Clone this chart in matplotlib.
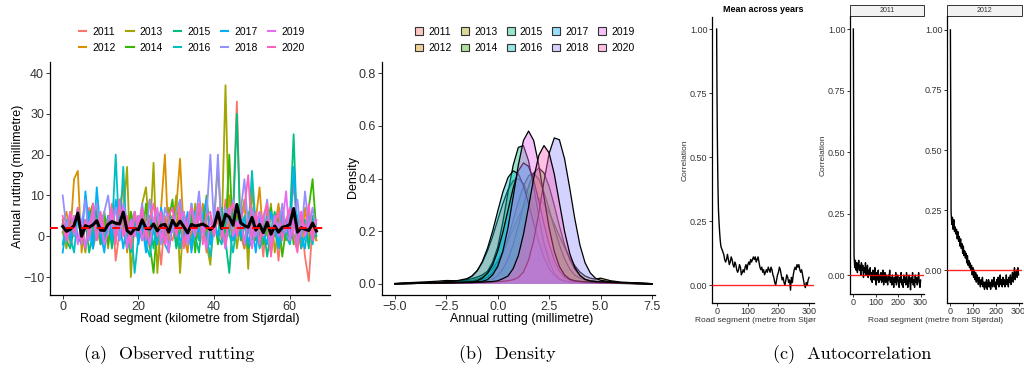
import numpy as np
import matplotlib
matplotlib.use('Agg')
import matplotlib.pyplot as plt
from matplotlib.patches import Rectangle, Patch
from matplotlib.lines import Line2D
from matplotlib.colors import to_rgba
from matplotlib.transforms import Bbox, TransformedBbox

plt.rcParams['font.family'] = ['Liberation Sans', 'DejaVu Sans']

# ---------------- data ----------------
YEARS = [2011, 2012, 2013, 2014, 2015, 2016, 2017, 2018, 2019, 2020]
COLORS = ['#F8766D', '#D89000', '#A3A500', '#39B600', '#00BF7D',
          '#00BFC4', '#00B0F6', '#9590FF', '#E76BF3', '#FF62BC']

KM = list(range(68))  # road segment (km from Stjørdal)
RUT_2011 = [1, 4, -2, 3, 6, -1, 2, 7, -3, 1, 5, -1, 3, 8, -6, 1, 4, -2, 6, 2,
            -1, 7, 1, -3, 4, 2, -7, 5, 0, -1, 3, 8, -2, 4, 0, 6, -1, 3, -4, 5,
            1, 4, -1, 9, 2, 6, 33, 0, -3, 4, 6, -1, 3, -5, 7, 0, 4, -6, 3, -1,
            5, 13, 0, 4, -5, -11, 3, -1]
RUT_2012 = [3, 6, 0, 14, 16, -4, 4, -1, 8, 2, -2, 5, 1, 4, -1, 7, 12, -4, 3, 0,
            5, -1, 4, 9, 1, 0, 7, 20, -3, 4, 7, 19, 0, -4, 6, 2, -1, 8, 3, -2,
            2, 7, 0, 4, 10, -1, 5, 2, -3, 6, 0, 4, 12, -1, 5, -4, 2, 8, 0, 4,
            -1, 5, 2, -3, 7, 0, 4, -1]
RUT_2013 = [1, -3, 4, 0, 7, 2, -4, 5, 1, 8, -1, 4, -3, 7, 2, 0, 5, 17, -10, 4,
            1, 8, 12, 0, 18, -9, 4, -1, 7, 2, 10, -9, 5, 0, -1, 8, 2, 4, -2, -7,
            5, 17, 1, 37, 0, 7, -3, 4, 9, -8, 12, 1, -2, 5, 0, 8, -4, 2, 4, -1,
            6, 0, -3, 5, 2, -1, 4, 0]
RUT_2014 = [4, -1, 5, 0, 6, 2, -3, 5, 8, 0, 3, 6, -2, 5, 0, 9, 2, -3, 6, 1,
            5, -1, 8, -2, -9, 3, 6, -1, 4, 9, -2, 3, 6, 0, 5, -4, 7, 1, 10, -1,
            5, -2, 6, 1, 20, -1, 4, 7, -2, 3, 6, -1, 4, -2, 3, 7, 0, 5, -5, 2,
            6, -2, 3, 5, 0, 7, 14, 1]
RUT_2015 = [3, -1, -3, 2, 5, -1, 4, -4, 1, 6, -2, 1, 5, -3, 3, -1, 7, 0, -4, 3,
            0, 5, -2, 3, -3, 6, 1, -2, 4, 5, -3, 1, 4, -2, 8, 0, -4, 5, 1, -2,
            3, 0, 7, -1, -9, 4, 30, -1, 3, -3, -1, 5, 0, 3, -5, 1, 6, -2, 3, 0,
            4, 25, -2, 1, 4, -3, 5, 0]
RUT_2016 = [-2, 4, 0, -4, 5, -1, 2, 6, -3, 3, 0, -2, 5, 1, 20, -1, 17, -3, 4, -9,
            0, 5, -2, -5, 3, 0, 6, -2, -4, 3, 1, -3, 5, 2, -3, 6, -1, 3, 0, -5,
            3, 0, -2, 5, 1, -4, 3, 6, -2, 1, 16, 2, -3, 0, 5, -3, 2, -2, 6, 0,
            -2, 3, 5, -3, 0, 4, -2, 3]
RUT_2017 = [-4, 3, -1, 5, 0, -2, 11, 2, -3, 12, 1, -4, 5, -1, 9, 4, -3, 3, 0, 6,
            -2, 3, -4, 5, 1, -2, 7, 2, -3, 4, 2, -1, 0, 6, -4, 3, 1, 5, 9, -2,
            4, 0, 3, -3, 6, -1, 2, 0, 5, -2, 3, -4, 5, 1, -2, 6, 2, -3, 1, 4,
            -1, 17, 2, 0, -3, 5, -1, 2]
RUT_2018 = [10, 2, 6, 0, 7, 3, 9, -1, 5, 8, 1, 6, 10, 2, 7, -1, 8, 4, 0, 6,
            2, 8, 0, 9, 3, 6, -2, 7, 4, 1, 6, 9, 2, 0, 8, 3, 11, 1, 5, 20,
            2, 20, 0, 7, 4, 9, 1, 6, 14, 2, 7, 0, 6, 3, 9, -1, 5, 2, 8, 1,
            6, 3, 9, 0, 11, 2, 7, 1]
RUT_2019 = [3, -1, 2, 5, -2, 4, -3, 3, 6, -1, 4, -2, 1, 6, 0, 3, 7, -3, 4, 0,
            5, -1, 3, -2, 4, 7, -1, 3, -4, 5, 0, 4, 6, -2, 3, 0, 5, 2, -3, 4,
            0, 6, 2, -3, 7, 0, 3, 5, -2, 4, -3, 3, 6, 0, 4, -4, 5, 0, 3, 11,
            -1, 4, -2, 6, 0, 3, -1, 4]
RUT_2020 = [5, -1, 6, 1, 7, -2, 4, 0, 8, -1, 6, 1, 4, 7, -2, 9, 0, 5, -3, 6,
            1, 7, -1, 4, 8, 0, 6, -2, 5, 7, 0, 6, -3, 4, 7, 1, 8, -2, 5, 6,
            0, 7, 3, -2, 6, 8, 0, 4, 7, 15, 0, 6, -2, 5, 8, -5, 3, 6, -1, 4,
            7, 0, -4, 6, 1, 8, -1, 4]
OVERALL_MEAN = 2.0

DENS_X = [-5, -4, -3, -2.5, -2, -1.5, -1.25, -1, -0.75, -0.5, -0.25, 0, 0.25, 0.5,
          0.75, 1, 1.25, 1.5, 1.75, 2, 2.25, 2.5, 2.75, 3, 3.25, 3.5, 3.75, 4,
          4.25, 4.5, 4.75, 5, 5.5, 6, 6.5, 7, 7.5]
DENS_2011 = [0.001, 0.002, 0.004, 0.006, 0.009,
             0.018, 0.03, 0.05, 0.081, 0.125, 0.18, 0.243, 0.305, 0.358, 0.391, 0.4, 0.38,
             0.338, 0.281, 0.217, 0.157, 0.106, 0.066, 0.039, 0.022, 0.014, 0.009, 0.007,
             0.006, 0.005, 0.004, 0.004,
             0.003, 0.002, 0.002, 0.001, 0.0]
DENS_2012 = [0.002, 0.006, 0.01, 0.013, 0.012,
             0.012, 0.013, 0.018, 0.026, 0.04, 0.058, 0.086, 0.122, 0.164, 0.209, 0.253,
             0.291, 0.318, 0.33, 0.325, 0.304, 0.27, 0.227, 0.182, 0.138, 0.1, 0.069,
             0.045, 0.03, 0.022, 0.018, 0.022,
             0.012, 0.007, 0.005, 0.003, 0.001]
DENS_2013 = [0.001, 0.003, 0.005, 0.007, 0.008,
             0.009, 0.01, 0.013, 0.017, 0.026, 0.044, 0.071, 0.115, 0.173, 0.241, 0.31,
             0.371, 0.41, 0.42, 0.397, 0.348, 0.283, 0.213, 0.148, 0.095, 0.057, 0.033,
             0.022, 0.015, 0.012, 0.01, 0.009,
             0.006, 0.004, 0.003, 0.002, 0.001]
DENS_2014 = [0.001, 0.002, 0.003, 0.004, 0.004,
             0.005, 0.005, 0.006, 0.007, 0.01, 0.017, 0.032, 0.056, 0.095, 0.149, 0.22,
             0.298, 0.37, 0.421, 0.44, 0.421, 0.37, 0.298, 0.22, 0.149, 0.093, 0.055,
             0.032, 0.018, 0.012, 0.009, 0.008,
             0.006, 0.004, 0.003, 0.002, 0.001]
DENS_2015 = [0.001, 0.002, 0.004, 0.006, 0.01,
             0.016, 0.02, 0.026, 0.034, 0.048, 0.082, 0.14, 0.235, 0.348, 0.45, 0.518,
             0.525, 0.467, 0.367, 0.253, 0.154, 0.085, 0.042, 0.02, 0.012, 0.009, 0.007,
             0.006, 0.005, 0.005, 0.004, 0.004,
             0.003, 0.002, 0.002, 0.001, 0.0]
DENS_2016 = [0.001, 0.003, 0.006, 0.008, 0.012,
             0.02, 0.03, 0.05, 0.085, 0.135, 0.2, 0.276, 0.349, 0.404, 0.429, 0.418,
             0.374, 0.306, 0.23, 0.159, 0.1, 0.058, 0.032, 0.017, 0.01, 0.007, 0.006,
             0.005, 0.004, 0.004, 0.003, 0.003,
             0.002, 0.002, 0.001, 0.001, 0.0]
DENS_2017 = [0.001, 0.002, 0.004, 0.005, 0.006,
             0.007, 0.008, 0.012, 0.022, 0.04, 0.072, 0.125, 0.196, 0.28, 0.363, 0.429,
             0.459, 0.446, 0.393, 0.314, 0.227, 0.15, 0.09, 0.05, 0.026, 0.015, 0.01,
             0.008, 0.007, 0.006, 0.005, 0.005,
             0.004, 0.003, 0.002, 0.001, 0.0]
DENS_2018 = [0.001, 0.002, 0.002, 0.003, 0.003,
             0.004, 0.004, 0.005, 0.005, 0.006, 0.007, 0.008, 0.01, 0.012, 0.016, 0.024,
             0.045, 0.09, 0.165, 0.27, 0.39, 0.495, 0.554, 0.547, 0.475, 0.365, 0.247,
             0.147, 0.08, 0.042, 0.022, 0.014,
             0.008, 0.005, 0.004, 0.002, 0.001]
DENS_2019 = [0.001, 0.002, 0.003, 0.004, 0.005,
             0.006, 0.007, 0.008, 0.01, 0.016, 0.034, 0.066, 0.124, 0.213, 0.33, 0.45,
             0.544, 0.58, 0.544, 0.45, 0.33, 0.213, 0.124, 0.066, 0.034, 0.018, 0.012,
             0.01, 0.008, 0.007, 0.006, 0.005,
             0.004, 0.003, 0.002, 0.001, 0.0]
DENS_2020 = [0.001, 0.002, 0.003, 0.003, 0.004,
             0.005, 0.005, 0.006, 0.007, 0.008, 0.009, 0.012, 0.02, 0.03, 0.058, 0.107,
             0.188, 0.292, 0.402, 0.488, 0.525, 0.497, 0.417, 0.308, 0.2, 0.116, 0.062,
             0.032, 0.017, 0.011, 0.009, 0.008,
             0.006, 0.004, 0.003, 0.002, 0.001]

ACF_MEAN_LAG = [0, 1, 2, 3, 4, 5, 6, 8, 10, 12, 14, 17, 20] + list(range(23, 300, 3))
ACF_MEAN = [1.0, 0.78, 0.62, 0.5, 0.41, 0.34, 0.29, 0.24, 0.2, 0.17, 0.15, 0.14, 0.13,
            0.12, 0.10, 0.09, 0.10, 0.12, 0.10, 0.08, 0.09, 0.11, 0.10,
            0.08, 0.07, 0.09, 0.08, 0.06, 0.05, 0.06, 0.08, 0.07, 0.04,
            0.05, 0.06, 0.05, 0.07, 0.08, 0.06, 0.08, 0.09, 0.08, 0.10,
            0.09, 0.10, 0.11, 0.10, 0.11, 0.09, 0.10, 0.11, 0.09, 0.07,
            0.06, 0.07, 0.05, 0.06, 0.04, 0.05, 0.06, 0.05, 0.07, 0.06,
            0.05, 0.07, 0.06, 0.04, 0.03, 0.01, 0.00, 0.02, 0.04, 0.05,
            0.07, 0.06, 0.04, 0.02, 0.03, 0.01, 0.00, 0.02, 0.04, 0.03,
            0.01, 0.02, -0.02, 0.03, 0.01, 0.04, 0.06, 0.07, 0.06, 0.08,
            0.07, 0.08, 0.06, 0.05, 0.06, 0.04, 0.02, 0.00, -0.01, 0.01,
            0.00, 0.02, 0.03]
ACF_LAG = list(range(0, 301, 3))
ACF_2011 = [1.0,
            0.08, 0.03, 0.06, 0.02, 0.05, 0.01, 0.04, 0.06, 0.02, 0.04,
            0.0, 0.05, 0.02, 0.04, -0.01, 0.03, 0.01, 0.05, 0.0, 0.02,
            0.04, -0.01, 0.02, 0.0, 0.03, -0.02, 0.01, -0.03, 0.02, 0.0,
            -0.02, 0.03, -0.01, -0.04, 0.01, -0.02, 0.02, -0.03, 0.0, -0.02,
            0.01, -0.03, -0.01, 0.02, -0.04, -0.01, 0.01, -0.03, 0.0, -0.02,
            -0.04, 0.0, -0.02, 0.02, -0.03, -0.01, -0.04, 0.0, -0.02, -0.05,
            -0.01, -0.03, 0.01, -0.04, -0.02, 0.0, -0.03, -0.05, -0.01, -0.03,
            0.01, -0.04, -0.02, -0.05, 0.0, -0.03, -0.01, -0.04, 0.01, -0.02,
            -0.05, -0.02, 0.0, -0.03, -0.06, -0.01, -0.03, 0.01, -0.04, -0.02,
            -0.05, 0.0, -0.03, -0.01, -0.04, -0.02, 0.01, -0.03, -0.05, -0.02]
ACF_2012 = [1.0,
            0.24, 0.19, 0.22, 0.17, 0.21, 0.16, 0.18, 0.15, 0.17, 0.13,
            0.16, 0.12, 0.14, 0.1, 0.13, 0.09, 0.11, 0.07, 0.1, 0.06,
            0.08, 0.05, 0.07, 0.03, 0.06, 0.02, 0.04, 0.01, 0.03, 0.0,
            0.02, -0.02, 0.01, -0.03, 0.0, -0.04, -0.01, -0.05, -0.02, -0.04,
            -0.06, -0.03, -0.05, -0.07, -0.04, -0.06, -0.03, -0.07, -0.05, -0.08,
            -0.05, -0.07, -0.04, -0.08, -0.06, -0.04, -0.07, -0.05, -0.08, -0.06,
            -0.04, -0.07, -0.05, -0.03, -0.07, -0.05, -0.08, -0.04, -0.06, -0.03,
            -0.07, -0.05, -0.02, -0.06, -0.04, -0.07, -0.03, -0.06, -0.04, -0.07,
            -0.05, -0.02, -0.06, -0.04, -0.07, -0.03, -0.05, -0.02, -0.06, -0.04,
            -0.01, -0.05, -0.02, 0.01, -0.04, -0.02, 0.0, -0.03, 0.01, -0.02]

RUT = [RUT_2011, RUT_2012, RUT_2013, RUT_2014, RUT_2015,
       RUT_2016, RUT_2017, RUT_2018, RUT_2019, RUT_2020]
DENS = [DENS_2011, DENS_2012, DENS_2013, DENS_2014, DENS_2015,
        DENS_2016, DENS_2017, DENS_2018, DENS_2019, DENS_2020]

# ---------------- figure ----------------
W, H = 1024, 370
fig = plt.figure(figsize=(W / 100, H / 100), dpi=100)


def rect(l, r, t, b):
    return [l / W, 1 - b / H, (r - l) / W, (b - t) / H]


def fx(px):
    return px / W


def fy(py):
    return 1 - py / H


TXT = '#333333'


def style(ax, fs, lw=0.9, tl=3):
    for s in ['top', 'right']:
        ax.spines[s].set_visible(False)
    for s in ['left', 'bottom']:
        ax.spines[s].set_linewidth(lw)
        ax.spines[s].set_color('black')
    ax.tick_params(direction='out', length=tl, width=0.7, labelsize=fs,
                   colors=TXT, pad=1.2)


def mlabel(v, fmt):
    return (fmt % v).replace('-', '\u2212')


# ---- (a) observed rutting ----
axa = fig.add_axes(rect(50, 330, 62, 295))
for yr, col, vals in zip(YEARS, COLORS, RUT):
    axa.plot(KM, vals, color=col, lw=1.3, zorder=2)
axa.plot(KM, np.mean(np.array(RUT), axis=0), color='black', lw=2.2, zorder=3)
axa.axhline(OVERALL_MEAN, color='red', lw=1.4, dashes=(4, 4), zorder=4)
axa.set_xlim(-3.35, 70.6)
axa.set_ylim(-14.4, 42.7)
axa.set_xticks([0, 20, 40, 60])
axa.set_yticks([-10, 0, 10, 20, 30, 40])
axa.set_yticklabels([mlabel(v, '%d') for v in [-10, 0, 10, 20, 30, 40]])
style(axa, 9)
fig.text(fx(18), fy(176), 'Annual rutting (millimetre)', rotation=90,
         ha='center', va='center', fontsize=9)
fig.text(fx(190), fy(319), 'Road segment (kilometre from Stjørdal)',
         ha='center', va='center', fontsize=9)
handles_a = [Line2D([], [], color=c, lw=1.5) for c in COLORS]
fig.legend(handles_a, [str(y) for y in YEARS], loc='center',
           bbox_to_anchor=(fx(192), fy(40)), ncol=5, frameon=False,
           fontsize=7.5, handlelength=0.7, handletextpad=0.6,
           columnspacing=1.0, labelspacing=0.6, borderpad=0)

# ---- (b) density ----
axb = fig.add_axes(rect(382, 655, 62, 295))
for i, (col, d) in enumerate(zip(COLORS, DENS)):
    axb.fill_between(DENS_X, 0, d, facecolor=to_rgba(col, 0.4),
                     edgecolor='none', zorder=2 + 2 * i)
    axb.plot(DENS_X, d, color='black', lw=0.9, zorder=3 + 2 * i)
axb.set_xlim(-5.63, 7.65)
axb.set_ylim(-0.042, 0.842)
DX_TICKS = [-5.0, -2.5, 0.0, 2.5, 5.0, 7.5]
axb.set_xticks(DX_TICKS)
axb.set_xticklabels([mlabel(v, '%.1f') for v in DX_TICKS])
DY_TICKS = [0.0, 0.2, 0.4, 0.6, 0.8]
axb.set_yticks(DY_TICKS)
axb.set_yticklabels(['%.1f' % v for v in DY_TICKS])
style(axb, 9)
fig.text(fx(353), fy(177), 'Density', rotation=90, ha='center',
         va='center', fontsize=9)
fig.text(fx(522), fy(319), 'Annual rutting (millimetre)', ha='center',
         va='center', fontsize=9)
handles_b = [Patch(facecolor=to_rgba(c, 0.4), edgecolor='#333333', lw=0.8)
             for c in COLORS]
fig.legend(handles_b, [str(y) for y in YEARS], loc='center',
           bbox_to_anchor=(fx(525), fy(40)), ncol=5, frameon=False,
           fontsize=7.5, handlelength=0.75, handleheight=0.75,
           handletextpad=0.5, columnspacing=0.9, labelspacing=0.6,
           borderpad=0)

# ---- (c) autocorrelation ----
ACF_YT = [0.0, 0.25, 0.5, 0.75, 1.0]
ACF_XT = [0, 100, 200, 300]


def acf_axes(r, lag, vals, ylim):
    ax = fig.add_axes(r)
    ax.plot(lag, vals, color='black', lw=1.0, zorder=2)
    ax.axhline(0, color='red', lw=1.0, alpha=0.85, zorder=3)
    ax.set_xlim(-15, 315)
    ax.set_ylim(*ylim)
    ax.set_xticks(ACF_XT)
    ax.set_yticks(ACF_YT)
    ax.set_yticklabels(['%.2f' % v for v in ACF_YT])
    style(ax, 6.5, lw=0.9, tl=2)
    return ax


axc1 = acf_axes(rect(712, 814, 17, 303), ACF_MEAN_LAG, ACF_MEAN, (-0.07, 1.047))
fig.text(fx(763), fy(10), 'Mean across years', ha='center', va='center',
         fontsize=6.5, fontweight='bold')
fig.text(fx(685), fy(160), 'Correlation', rotation=90, ha='center',
         va='center', fontsize=6, color=TXT)
t = fig.text(fx(763), fy(320), 'Road segment (metre from Stjørdal)',
             ha='center', va='center', fontsize=6, color=TXT)
t.set_clip_box(TransformedBbox(Bbox([[0, 0], [fx(816), 1]]), fig.transFigure))
t.set_clip_on(True)

axc2 = acf_axes(rect(850, 924, 16, 294), ACF_LAG, ACF_2011, (-0.077, 1.053))
axc3 = acf_axes(rect(947, 1022, 16, 303), ACF_LAG, ACF_2012, (-0.137, 1.058))
for ax, lab in [(axc2, '2011'), (axc3, '2012')]:
    ax.add_patch(Rectangle((0, 1.0), 1, 11 / 278, transform=ax.transAxes,
                           facecolor='#F2F2F2', edgecolor='#333333', lw=0.7,
                           clip_on=False))
    ax.text(0.5, 1.0 + 5.5 / 278, lab, transform=ax.transAxes, ha='center',
            va='center', fontsize=5, color=TXT)
fig.text(fx(823), fy(155), 'Correlation', rotation=90, ha='center',
         va='center', fontsize=6, color=TXT)
fig.text(fx(936), fy(320), 'Road segment (metre from Stjørdal)',
         ha='center', va='center', fontsize=6, color=TXT)

# ---- captions ----
for xc, cap in [(169, '(a)  Observed rutting'), (507, '(b)  Density'),
                (852, '(c)  Autocorrelation')]:
    fig.text(fx(xc), fy(355), cap, ha='center', va='center', fontsize=13,
             family=['cmr10', 'DejaVu Serif'])

fig.savefig('out.png', dpi=100)
